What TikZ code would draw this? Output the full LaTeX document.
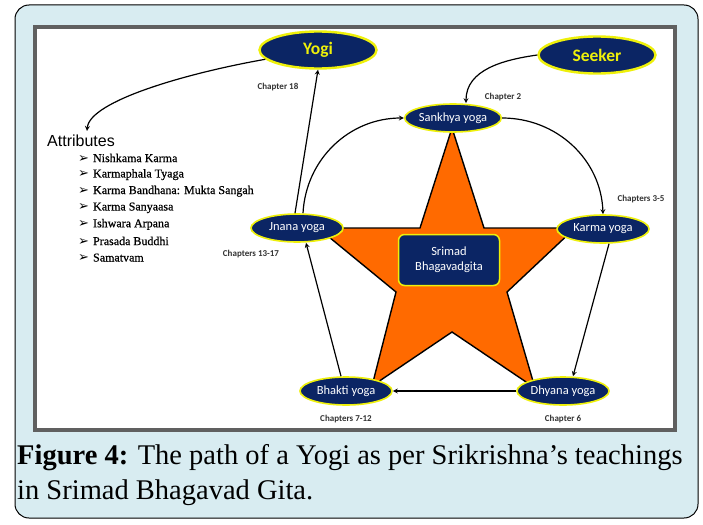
\documentclass[tikz,border=0pt]{standalone}
\usepackage{fontspec}
\setmainfont{Liberation Serif}
\newfontfamily\calibfont{Carlito}
\newfontfamily\arialfont{Liberation Sans}
\newfontfamily\dingfont{DejaVu Sans}
\newfontfamily\listfont{Liberation Serif}[FakeBold=0.6]
\usetikzlibrary{shapes.geometric,arrows,positioning,calc}
\definecolor{navy}{HTML}{0B2564}
\definecolor{halo}{HTML}{EEF00A}
\definecolor{sky}{HTML}{D8ECF1}
\definecolor{saffron}{HTML}{FF6A00}
\tikzstyle{yoga}=[ellipse, draw=halo, line width=1.6pt, fill=navy, text=white, font=\calibfont\fontsize{12.5}{15}\selectfont, minimum width=92pt, minimum height=28pt, inner sep=0pt]
\tikzstyle{goal}=[yoga, line width=2.4pt, minimum width=117pt, minimum height=37pt, text=halo, font=\calibfont\bfseries\fontsize{17.5}{20}\selectfont]
\tikzstyle{chap}=[font=\calibfont\bfseries\fontsize{9}{11}\selectfont, text=black!80]
\tikzstyle{arrow}=[line width=1.2pt,->,>=stealth]
\begin{document}
\begin{tikzpicture}[x=1pt,y=-1pt]
\useasboundingbox (0,0) rectangle (703,524);
\draw[fill=sky, line width=1pt, rounded corners=14pt] (15,5) rectangle (698,518);
\draw[fill=white, draw=gray!75!black, line width=3.5pt] (35,27) rectangle (675,430);
% star behind the yogas
\draw[fill=saffron, line width=1.4pt] (452,128) -- (484,228) -- (575,228) -- (507,292) -- (535,388)
  -- (452,332) -- (372,386) -- (396,292) -- (318,228) -- (420,228) -- cycle;
\node[goal] (yogi) at (318,50) {Yogi};
\node[goal] (seeker) at (597,55) {Seeker};
\node[yoga] (sankhya) at (453,118) {Sankhya yoga};
\node[yoga] (karma) at (603,229) {Karma yoga};
\node[yoga] (dhyana) at (563,391) {Dhyana yoga};
\node[yoga] (bhakti) at (346,391) {Bhakti yoga};
\node[yoga] (jnana) at (297,228) {Jnana yoga};
\node[draw=halo, line width=1.5pt, fill=navy, text=white, rounded corners=6pt, minimum width=101pt,
  minimum height=51pt, align=center, font=\calibfont\fontsize{12.5}{15}\selectfont] (gita) at (449,260) {Srimad\\Bhagavadgita};
\node[chap] (ch18) at (278,87) {Chapter 18};
\node[chap] (ch2) at (503,97) {Chapter 2};
\node[chap] (ch35) at (641,199) {Chapters 3-5};
\node[chap] (ch1317) at (251,254) {Chapters 13-17};
\node[chap,below=6pt of bhakti] (ch712) {Chapters 7-12};
\node[chap,below=6pt of dhyana] (ch6) {Chapter 6};
% attributes of the yogi
\node[anchor=west, inner sep=0pt, font=\arialfont\fontsize{16}{18}\selectfont] (attr) at (47,141) {Attributes};
\foreach \quality [count=\i] in {Nishkama Karma, Karmaphala Tyaga, Karma Bandhana: Mukta Sangah,
  Karma Sanyaasa, Ishwara Arpana, Prasada Buddhi, Samatvam}
  \node[anchor=west, inner sep=0pt, font=\listfont\fontsize{12}{14}\selectfont] (quality\i) at (78,{141.4+16.6*\i})
    {{\dingfont\fontsize{13}{13}\selectfont ➢}\hspace{4pt}\quality};
\draw[arrow] (yogi.190) to[out=190,in=85,out distance=80pt,in distance=30pt] ([xshift=6pt,yshift=4pt]attr.north);
\draw[arrow] ([xshift=-2pt]jnana.north) -- (yogi.south);
\draw[arrow] ([xshift=6pt]jnana.north) to[out=87,in=180] (sankhya.west);
\draw[arrow] (seeker.west) to[out=188,in=90] ([xshift=13pt]sankhya.north);
\draw[arrow] (sankhya.east) to[out=0,in=92] (karma.north);
\draw[arrow] ([xshift=6pt]karma.south) -- ([xshift=10pt]dhyana.north);
\draw[arrow] (dhyana.west) -- (bhakti.east);
\draw[arrow] ([xshift=-5pt]bhakti.north) -- ([xshift=9pt]jnana.south);
% caption
\node[anchor=base west, inner sep=0pt, font=\fontsize{28.5}{32}\selectfont] (cap1) at (17,464)
  {\textbf{Figure 4:} The path of a Yogi as per Srikrishna’s teachings};
\node[anchor=base west, inner sep=0pt, font=\fontsize{28.5}{32}\selectfont] (cap2) at (17,499)
  {in Srimad Bhagavad Gita.};
\end{tikzpicture}
\end{document}
